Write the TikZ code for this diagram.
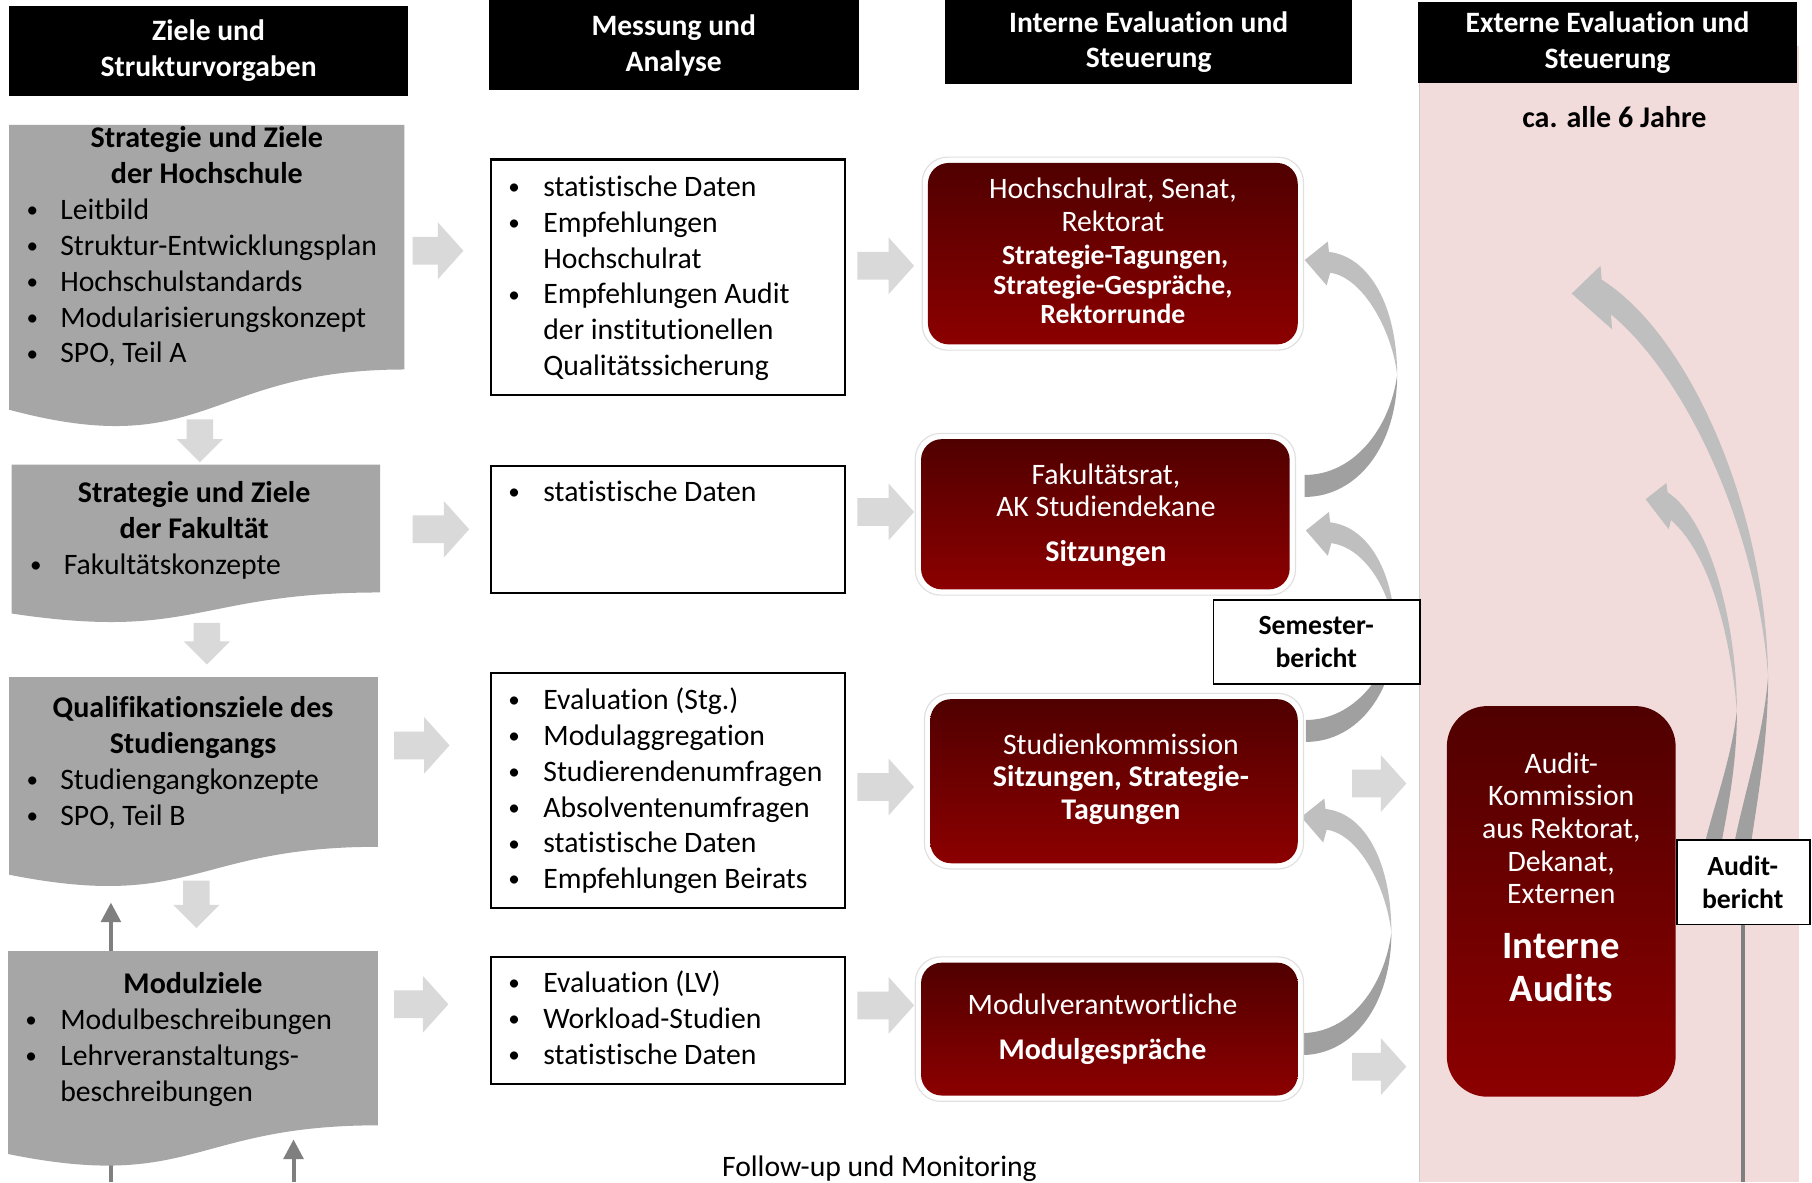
\documentclass[tikz,border=0pt]{standalone}
\usepackage{fontspec}
\setmainfont{Carlito}[Ligatures=CommonOff]
\usetikzlibrary{arrows.meta}
\definecolor{docgray}{HTML}{A6A6A6}
\definecolor{lightarrow}{HTML}{D9D9D9}
\definecolor{curvelight}{HTML}{BFBFBF}
\definecolor{curvedark}{HTML}{A0A0A0}
\definecolor{thingray}{HTML}{7F7F7F}
\definecolor{pinkbg}{HTML}{F2DCDB}
\definecolor{redtop}{HTML}{500000}
\definecolor{redbot}{HTML}{8C0000}
\tikzset{
  hdr/.style={fill=black,text=white,font=\fontsize{25.6}{31}\selectfont\bfseries,align=center,inner sep=0},
  txt/.style={font=\fontsize{25.7}{31}\selectfont,anchor=base,inner sep=0},
  bultxt/.style={font=\fontsize{20}{31}\selectfont,anchor=base,inner sep=0},
  btxt/.style={font=\fontsize{26}{31}\selectfont\bfseries,anchor=base,inner sep=0},
  lbtxt/.style={font=\fontsize{24}{29}\selectfont\bfseries,anchor=base,inner sep=0},
  wtxt/.style={txt,text=white},
  wbtxt/.style={btxt,text=white},
  wbstxt/.style={font=\fontsize{24}{26}\selectfont\bfseries,anchor=base,inner sep=0,text=white},
  bigtxt/.style={font=\fontsize{33.5}{38}\selectfont\bfseries,anchor=base,inner sep=0,text=white},
  wbox/.style={draw=black,line width=1.8,fill=white,inner sep=0},
  lbox/.style={draw=black,line width=1.5,fill=white,inner sep=0},
  thinarr/.style={draw=thingray,line width=3.5,-{Triangle[width=17pt,length=17pt]}},
  thinline/.style={draw=thingray,line width=3.5},
}
\newcommand\txtline[5]{\node[#4] (#1) at (#2,#3+8) {#5};}
\newcommand\bitem[5]{%
  \node[bultxt] (#1b) at (#2,#4+6.5) {\textbullet};
  \node[txt,anchor=base west] (#1) at (#3,#4+8) {#5};}
\newcommand\rarr[3]{%
  \fill[lightarrow] (#1,#3-12) -- (#2-22,#3-12) -- (#2-22,#3-24.5) -- (#2,#3) -- (#2-22,#3+24.5) -- (#2-22,#3+12) -- (#1,#3+12) -- cycle;}
\newcommand\darr[3]{%
  \fill[lightarrow] (#1-11.5,#2) -- (#1+11.5,#2) -- (#1+11.5,#3-20) -- (#1+20,#3-20) -- (#1,#3) -- (#1-20,#3-20) -- (#1-11.5,#3-20) -- cycle;}
\newcommand\docshape[4]{%
  \fill[docgray] (#1,#3) -- (#2,#3) -- (#2,{#3+0.802*#4}) .. controls ({(#1+#2)/2},{#3+0.802*#4}) and ({(#1+#2)/2},{#3+1.1075*#4}) .. (#1,{#3+0.934*#4}) -- cycle;}
\newcommand\bigcurve[4]{%
  \fill[curvelight] (#1+21,#2-7) .. controls (#1+56,#2-3) and (#4,#2+40) .. ({#4},{(#2+#3)/2+2}) .. controls ({#4-4},{(#2+#3)/2-35}) and (#1+51,#2+15) .. (#1+22,#2+11) -- (#1+19,#2+22) -- (#1,#2) -- (#1+20,#2-16) -- cycle;
  \fill[curvedark] ({#4},{(#2+#3)/2+2}) .. controls (#4,#3-35) and (#1+46,#3+10) .. (#1,#3+10) -- (#1,#3-9) .. controls (#1+43,#3-9) and (#4-6,#3-50) .. ({#4},{(#2+#3)/2+2}) -- cycle;}
\newcommand\redbox[6]{%
  \draw[fill=white,draw=black!12,line width=1,rounded corners=22pt] (#2-5,#3-5) rectangle (#4+5,#5+5);
  \shade[top color=redtop,bottom color=redbot,rounded corners=#6] (#2,#3) rectangle (#4,#5);
  \coordinate (#1) at ({(#2+#4)/2},{(#3+#5)/2});}
\begin{document}
\begin{tikzpicture}[x=1pt,y=-1pt]
\useasboundingbox (0,0) rectangle (1568,1023);
\fill[white] (0,0) rectangle (1568,1023);
% pink panel
\fill[pinkbg] (1228,40) rectangle (1557,1023);
\draw[black!20,line width=0.8] (1228,72) -- (1228,1023);
% headers
\node[hdr,minimum width=345,minimum height=78] (h1) at (180.5,44) {Ziele und\\Strukturvorgaben};
\node[hdr,minimum width=320,minimum height=78] (h2) at (583,39) {Messung und\\Analyse};
\node[hdr,minimum width=352,minimum height=73] (h3) at (994,36.5) {Interne Evaluation und\\Steuerung};
\node[hdr,minimum width=328,minimum height=70] (h4) at (1391,37) {Externe Evaluation und\\Steuerung};
\txtline{freq}{1397}{102}{btxt}{ca. alle 6 Jahre}
% thin dark arrows and lines
\draw[thinarr] (96,823) -- (96,781);
\draw[thinline] (96,1023) -- (96,990);
\draw[thinarr] (254,1023) -- (254,986);
\draw[thinline] (1508,790) -- (1508,1023);
% light block arrows
\darr{173}{363}{400}
\darr{179}{539}{575}
\darr{170}{762}{803}
\rarr{357}{401}{217}
\rarr{357}{406}{458}
\rarr{341}{389}{645}
\rarr{341}{388}{869}
\rarr{742}{791}{230}
\rarr{742}{791}{443}
\rarr{742}{791}{681}
\rarr{742}{791}{870}
\rarr{1170}{1217}{678}
\rarr{1170}{1217}{923}
% curved arrows between committees
\bigcurve{1129}{225}{420}{1209}
\bigcurve{1130}{459}{632}{1207}
\bigcurve{1126}{707}{903}{1204}
% curved arrows in the external panel
\fill[curvelight] (1386,242) .. controls (1462,290) and (1528,440) .. (1530,585) .. controls (1520,455) and (1458,325) .. (1394,272) -- (1395,285) -- (1360,254) -- (1385,230) -- cycle;
\fill[curvedark] (1530,585) .. controls (1530,650) and (1518,705) .. (1514,740) -- (1499,740) .. controls (1505,700) and (1526,640) .. (1530,585) -- cycle;
\fill[curvelight] (1443,426) .. controls (1480,450) and (1503,540) .. (1503,615) .. controls (1497,545) and (1478,478) .. (1446,450) -- (1444,458) -- (1424,432) -- (1442,418) -- cycle;
\fill[curvedark] (1503,615) .. controls (1503,670) and (1492,712) .. (1488,740) -- (1473,740) .. controls (1480,705) and (1498,660) .. (1503,615) -- cycle;
% gray document shapes
\docshape{8}{350}{108}{264}
\docshape{10}{329}{402}{138}
\docshape{8}{327}{586}{183}
\docshape{7}{327}{823}{188}
\txtline{g1t1}{179}{120}{btxt}{Strategie und Ziele}
\txtline{g1t2}{179}{151}{btxt}{der Hochschule}
\bitem{g1i1}{28}{52}{182}{Leitbild}
\bitem{g1i2}{28}{52}{213}{Struktur-Entwicklungsplan}
\bitem{g1i3}{28}{52}{244}{Hochschulstandards}
\bitem{g1i4}{28}{52}{275}{Modularisierungskonzept}
\bitem{g1i5}{28}{52}{306}{SPO, Teil A}
\txtline{g2t1}{168}{427}{btxt}{Strategie und Ziele}
\txtline{g2t2}{168}{458}{btxt}{der Fakultät}
\bitem{g2i1}{31}{55}{489}{Fakultätskonzepte}
\txtline{g3t1}{167}{613}{btxt}{Qualifikationsziele des}
\txtline{g3t2}{167}{644}{btxt}{Studiengangs}
\bitem{g3i1}{28}{52}{675}{Studiengangkonzepte}
\bitem{g3i2}{28}{52}{706}{SPO, Teil B}
\txtline{g4t1}{167}{852}{btxt}{Modulziele}
\bitem{g4i1}{27}{52}{883}{Modulbeschreibungen}
\bitem{g4i2}{27}{52}{914}{Lehrveranstaltungs-}
\node[txt,anchor=base west] (g4i3) at (52,953) {beschreibungen};
% white boxes
\node[wbox,minimum width=306,minimum height=204] (w1) at (578,240) {};
\node[wbox,minimum width=306,minimum height=110] (w2) at (578,458) {};
\node[wbox,minimum width=306,minimum height=204] (w3) at (578,684) {};
\node[wbox,minimum width=306,minimum height=110] (w4) at (578,883) {};
\bitem{w1i1}{445}{470}{162}{statistische Daten}
\bitem{w1i2}{445}{470}{193}{Empfehlungen}
\node[txt,anchor=base west] (w1i3) at (470,232) {Hochschulrat};
\bitem{w1i4}{445}{470}{255}{Empfehlungen Audit}
\node[txt,anchor=base west] (w1i5) at (470,294) {der institutionellen};
\node[txt,anchor=base west] (w1i6) at (470,325) {Qualitätssicherung};
\bitem{w2i1}{445}{470}{426}{statistische Daten}
\bitem{w3i1}{445}{470}{606}{Evaluation (Stg.)}
\bitem{w3i2}{445}{470}{637}{Modulaggregation}
\bitem{w3i3}{445}{470}{668}{Studierendenumfragen}
\bitem{w3i4}{445}{470}{699}{Absolventenumfragen}
\bitem{w3i5}{445}{470}{730}{statistische Daten}
\bitem{w3i6}{445}{470}{761}{Empfehlungen Beirats}
\bitem{w4i1}{445}{470}{851}{Evaluation (LV)}
\bitem{w4i2}{445}{470}{882}{Workload-Studien}
\bitem{w4i3}{445}{470}{913}{statistische Daten}
% red committee boxes
\redbox{r1}{803}{141}{1123}{298}{18pt}
\redbox{r2}{797}{380}{1116}{510}{18pt}
\redbox{r3}{805}{605}{1123}{747}{18pt}
\redbox{r4}{797}{833}{1123}{948}{18pt}
\txtline{r1t1}{963}{164}{wtxt}{Hochschulrat, Senat,}
\txtline{r1t2}{963}{192}{wtxt}{Rektorat}
\txtline{r1t3}{965}{221}{wbstxt}{Strategie-Tagungen,}
\txtline{r1t4}{963}{247}{wbstxt}{Strategie-Gespräche,}
\txtline{r1t5}{963}{272}{wbstxt}{Rektorrunde}
\txtline{r2t1}{957}{411}{wtxt}{Fakultätsrat,}
\txtline{r2t2}{957}{439}{wtxt}{AK Studiendekane}
\txtline{r2t3}{957}{478}{wbtxt}{Sitzungen}
\txtline{r3t1}{970}{645}{wtxt}{Studienkommission}
\txtline{r3t2}{970}{673}{wbtxt}{Sitzungen, Strategie-}
\txtline{r3t3}{970}{701}{wbtxt}{Tagungen}
\txtline{r4t1}{954}{870}{wtxt}{Modulverantwortliche}
\txtline{r4t2}{954}{909}{wbtxt}{Modulgespräche}
% audit box
\shade[top color=redtop,bottom color=redbot,rounded corners=35pt] (1252,611) rectangle (1450,949);
\coordinate (audit) at (1351,780);
\txtline{a1}{1351}{661}{wtxt}{Audit-}
\txtline{a2}{1351}{689}{wtxt}{Kommission}
\txtline{a3}{1351}{718}{wtxt}{aus Rektorat,}
\txtline{a4}{1351}{746}{wtxt}{Dekanat,}
\txtline{a5}{1351}{774}{wtxt}{Externen}
\node[bigtxt] (a6) at (1351,829) {Interne};
\node[bigtxt] (a7) at (1351,867) {Audits};
% report label boxes
\node[lbox,minimum width=179,minimum height=73] (sem) at (1139.5,555.5) {};
\txtline{sem1}{1139}{541}{lbtxt}{Semester-}
\txtline{sem2}{1139}{570}{lbtxt}{bericht}
\node[lbox,minimum width=115,minimum height=73] (ab) at (1508.5,763.5) {};
\txtline{ab1}{1508}{750}{lbtxt}{Audit-}
\txtline{ab2}{1508}{778}{lbtxt}{bericht}
% footer
\txtline{fu}{761}{1010}{txt}{Follow-up und Monitoring}
\end{tikzpicture}
\end{document}
